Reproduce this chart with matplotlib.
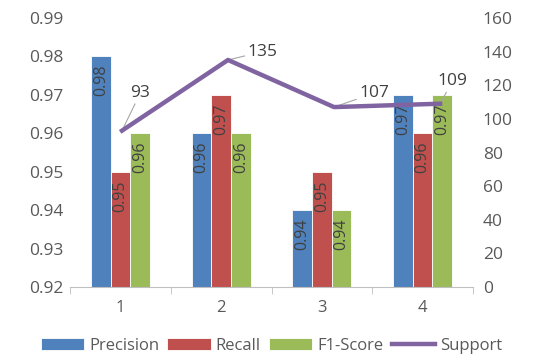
import numpy as np
import matplotlib.pyplot as plt

# ─── Data ─────────────────────────────────────────────────────────────────────
categories = ["1", "2", "3", "4"]
precision = [0.98, 0.96, 0.94, 0.97]
recall    = [0.95, 0.97, 0.95, 0.96]
f1_score  = [0.96, 0.96, 0.94, 0.97]
support   = [93, 135, 107, 109]

series = [("Precision", precision, "#4F81BD"),
          ("Recall", recall, "#C0504D"),
          ("F1-Score", f1_score, "#9BBB59")]

plt.rcParams["font.family"] = ["Open Sans", "DejaVu Sans"]
GREY = "#595959"

fig = plt.figure(figsize=(5.43, 3.58), dpi=100)
rect = [0.129, 0.198, 0.742, 0.752]
ax = fig.add_axes(rect)
# secondary axes: the support line sits on its own (slightly wider) x scale
ax2 = fig.add_axes(rect)
ax2.patch.set_visible(False)

x = np.arange(len(categories))
w = 0.195
for k, (name, vals, col) in enumerate(series):
    pos = x + (k - 1) * w
    ax.bar(pos, np.array(vals) - 0.92, bottom=0.92, width=w, color=col,
           edgecolor="white", linewidth=0.6, label=name)
    for xi, v in zip(pos, vals):
        ax.text(xi, v - 0.0022, f"{v:.2f}", rotation=90, ha="center", va="top",
                fontsize=11.5, color="#404040")

ax.set_xlim(-0.5, len(categories) - 0.5)
ax.set_ylim(0.92, 0.99)
yt = np.arange(0.92, 0.9901, 0.01)
ax.set_yticks(yt)
ax.set_yticklabels([f"{t:.2f}" for t in yt])
ax.set_xticks(x)
ax.set_xticklabels(categories)
ax.set_xticks(np.arange(-0.5, len(categories), 1.0), minor=True)
ax.tick_params(axis="x", which="major", length=0, pad=9, labelsize=12, colors=GREY)
ax.tick_params(axis="x", which="minor", length=5, color="#BFBFBF")
ax.tick_params(axis="y", length=0, labelsize=12.5, colors=GREY, pad=5)

ax2.plot(x, support, color="#8064A2", linewidth=3.2, label="Support", zorder=5)
ax2.set_xlim(-0.49, 3.31)
ax2.set_ylim(0, 160)
ax2.set_yticks(np.arange(0, 161, 20))
ax2.yaxis.tick_right()
ax2.xaxis.set_visible(False)
ax2.tick_params(axis="y", length=0, labelsize=12.5, colors=GREY, pad=7)

for a in (ax, ax2):
    for s in ("top", "left", "right"):
        a.spines[s].set_visible(False)
ax.spines["bottom"].set_color("#BFBFBF")
ax2.spines["bottom"].set_visible(False)

# support data labels with leader lines (offsets in points)
offsets = [(6, 27), (14, 6), (18, 10), (-2, 16)]
for xi, s, (dx, dy) in zip(x, support, offsets):
    ax2.annotate(str(s), xy=(xi, s), xytext=(dx, dy), textcoords="offset points",
                 fontsize=12.5, color="#404040", ha="left", va="center",
                 arrowprops=dict(arrowstyle="-", color="#A6A6A6", lw=0.8,
                                 shrinkA=0, shrinkB=0))

h1, l1 = ax.get_legend_handles_labels()
h2, l2 = ax2.get_legend_handles_labels()
fig.legend(h1 + h2, l1 + l2, loc="lower center", bbox_to_anchor=(0.5, -0.03),
           ncol=4, frameon=False, fontsize=12, labelcolor=GREY,
           handlelength=2.6, handletextpad=0.3, columnspacing=0.5)

fig.savefig("out.png", dpi=100)
